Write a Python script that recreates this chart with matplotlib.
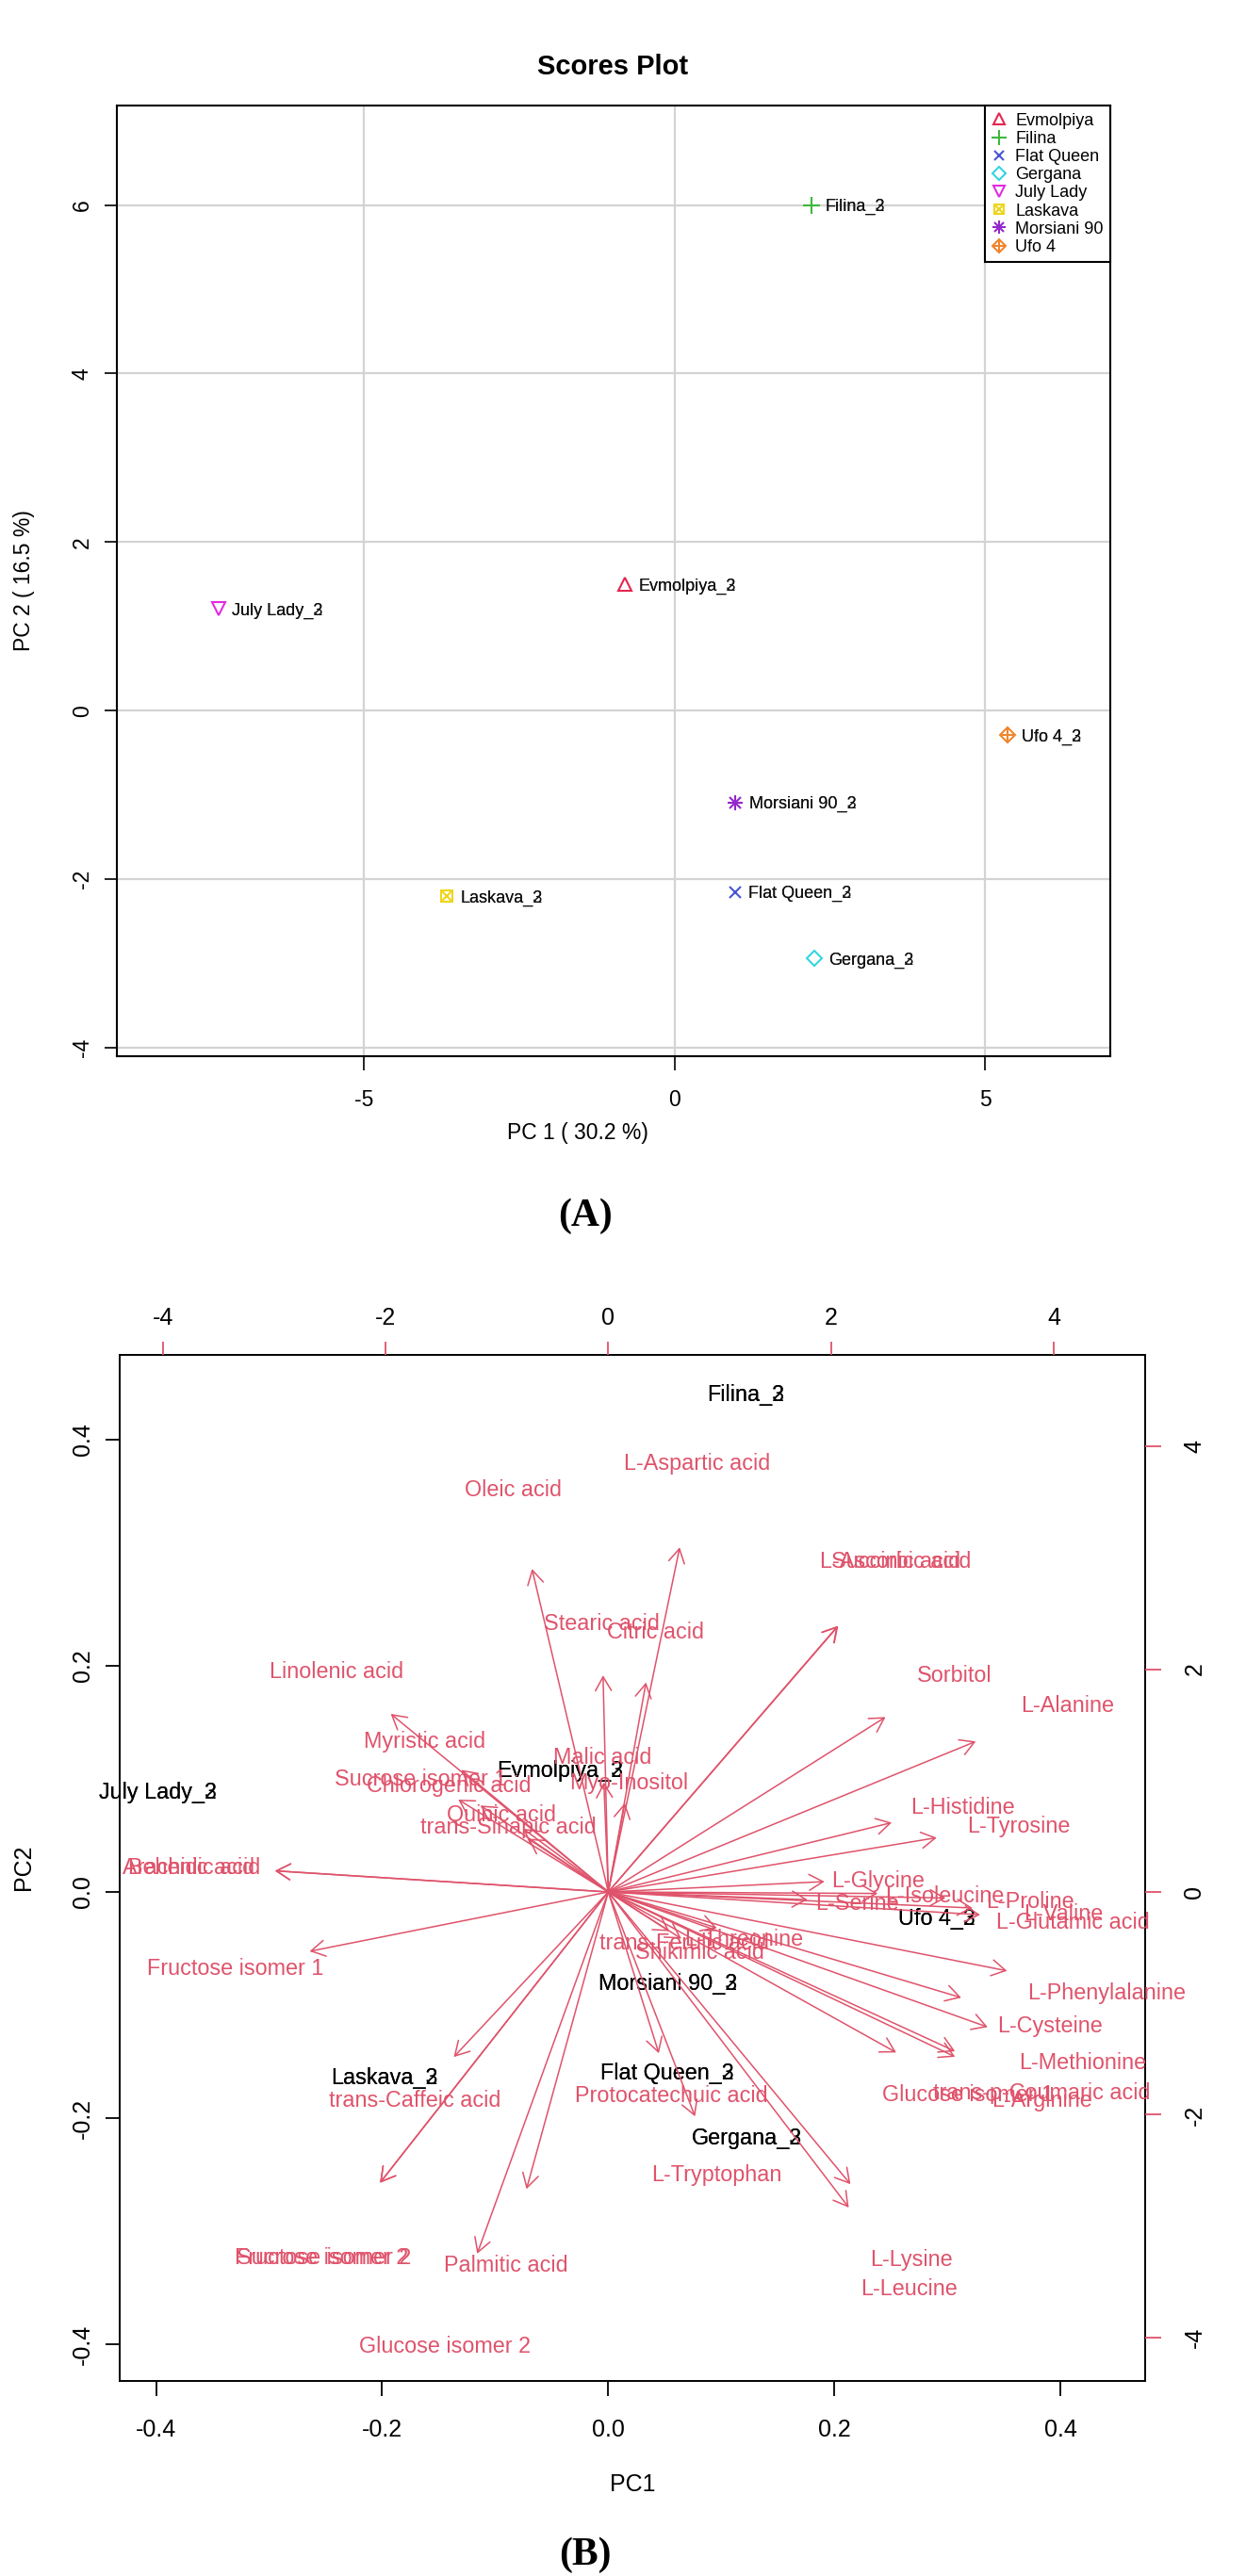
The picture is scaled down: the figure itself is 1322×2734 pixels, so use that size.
import numpy as np
import matplotlib
matplotlib.use('Agg')
import matplotlib.pyplot as plt
from matplotlib.lines import Line2D
from matplotlib.legend_handler import HandlerTuple

plt.rcParams['font.family'] = ['Liberation Sans', 'DejaVu Sans']
plt.rcParams['axes.unicode_minus'] = False

# ---------------- Panel A data (scores plot) ----------------
cultivars = ['Evmolpiya', 'Filina', 'Flat Queen', 'Gergana',
             'July Lady', 'Laskava', 'Morsiani 90', 'Ufo 4']
pc1_scores = [-0.80, 2.20, 0.97, 2.25, -7.34, -3.66, 0.98, 5.36]
pc2_scores = [1.50, 6.00, -2.15, -2.94, 1.21, -2.20, -1.09, -0.29]
replicates = ['2', '3']
xticksA = [-5, 0, 5]
yticksA = [-4, -2, 0, 2, 4, 6]

# ---------------- Panel B data (biplot) ----------------
score_pc1 = [-0.0428, 0.1217, 0.0523, 0.1223, -0.3986, -0.1977, 0.0529, 0.2908]
score_pc2 = [0.1094, 0.4417, -0.1586, -0.2156, 0.0900, -0.1628, -0.0794, -0.0219]

variables = ['L-Aspartic acid', 'Oleic acid', 'L-Ascorbic acid', 'Succinic acid',
             'Sorbitol', 'Stearic acid', 'Citric acid', 'Linolenic acid',
             'L-Alanine', 'Myristic acid', 'Malic acid', 'Myo-Inositol',
             'Sucrose isomer 1', 'Chlorogenic acid', 'Quinic acid', 'trans-Sinapic acid',
             'L-Histidine', 'L-Tyrosine', 'Arachidic acid', 'Behenic acid',
             'L-Glycine', 'L-Isoleucine', 'L-Serine', 'L-Proline',
             'L-Valine', 'L-Glutamic acid', 'L-Threonine', 'trans-Ferulic acid',
             'Shikimic acid', 'L-Phenylalanine', 'L-Cysteine', 'L-Methionine',
             'Glucose isomer 1', 'trans-p-Coumaric acid', 'L-Arginine', 'Protocatechuic acid',
             'L-Tryptophan', 'L-Lysine', 'L-Leucine', 'trans-Caffeic acid',
             'Sucrose isomer 2', 'Fructose isomer 2', 'Palmitic acid', 'Glucose isomer 2',
             'Fructose isomer 1']
load_pc1 = [0.801, -0.856, 2.575, 2.58,
            3.110, -0.059, 0.423, -2.441,
            4.123, -1.649, -0.05, 0.186,
            -1.683, -1.435, -0.956, -0.899,
            3.180, 3.685, -3.740, -3.740,
            2.425, 3.022, 2.235, 3.784,
            4.087, 4.172, 1.218, 0.685,
            0.820, 4.474, 3.960, 4.256,
            3.230, 3.890, 3.890, 0.567,
            0.973, 2.717, 2.698, -1.734,
            -2.562, -2.562, -0.918, -1.471,
            -3.351]
load_pc2 = [3.867, 3.625, 2.985, 2.985,
            1.962, 2.430, 2.351, 1.998,
            1.689, 1.370, 1.23, 0.998,
            1.036, 0.970, 0.710, 0.598,
            0.778, 0.609, 0.237, 0.237,
            0.116, -0.017, -0.087, -0.068,
            -0.180, -0.256, -0.406, -0.440,
            -0.524, -0.885, -1.186, -1.516,
            -1.801, -1.787, -1.849, -1.810,
            -2.518, -3.279, -3.541, -1.852,
            -3.264, -3.264, -3.334, -4.059,
            -0.666]
ticksB_primary = [-0.4, -0.2, 0.0, 0.2, 0.4]
ticksB_secondary = [-4, -2, 0, 2, 4]

# ---------------- styles ----------------
RED = '#DF536B'
colors = ['#E5264F', '#3DB83F', '#4655D4', '#34D5E3',
          '#E22BE0', '#EFD51C', '#9327CC', '#F0852C']
marker_specs = [
    [('^', 10, 'none')],
    [('+', 13, None)],
    [('x', 9, None)],
    [('D', 8, 'none')],
    [('v', 10, 'none')],
    [('s', 8, 'none'), ('x', 7, None)],
    [('+', 12, None), ('x', 9, None)],
    [('D', 8, 'none'), ('+', 11, None)],
]

W, H = 1322, 2734
fig = plt.figure(figsize=(W / 100, H / 100), dpi=100)


def rect(l, t, r, b):
    return [l / W, 1 - b / H, (r - l) / W, (b - t) / H]


# ================= Panel A =================
axA = fig.add_axes(rect(123.5, 112.5, 1178, 1121))
axA.set_xlim(-8.98, 7.01)
axA.set_ylim(-4.10, 7.175)
axA.set_xticks(xticksA)
axA.set_yticks(yticksA)
axA.grid(True, color='#D3D3D3', lw=1.6)
axA.set_axisbelow(True)
for s in axA.spines.values():
    s.set_linewidth(1.5)
axA.tick_params(axis='x', length=10.5, width=1.2, pad=15, labelsize=16.5)
axA.tick_params(axis='y', length=9.7, width=1.2, pad=8, labelsize=16.5, labelrotation=90)
for lab in axA.get_yticklabels():
    lab.set_va('center')

handles = []
for i, name in enumerate(cultivars):
    parts = []
    for (m, ms, mfc) in marker_specs[i]:
        kw = dict(marker=m, markersize=ms, color=colors[i], mew=1.5, linestyle='none')
        if mfc == 'none':
            kw['markerfacecolor'] = 'none'
        axA.plot([pc1_scores[i]], [pc2_scores[i]], zorder=3, **kw)
        parts.append(Line2D([], [], **kw))
    handles.append(tuple(parts))
    for r in replicates:
        axA.annotate(f'{name}_{r}', (pc1_scores[i], pc2_scores[i]),
                     xytext=(10.5, 0), textcoords='offset points',
                     ha='left', va='center_baseline', fontsize=13, color='#111111')

leg = axA.legend(handles, cultivars, loc='upper right', fontsize=13,
                 handler_map={tuple: HandlerTuple(ndivide=1)},
                 frameon=True, fancybox=False, edgecolor='black', framealpha=1,
                 borderaxespad=0, borderpad=0.4, labelspacing=0.12,
                 handlelength=0.9, handletextpad=0.5, markerscale=0.85)
leg.get_frame().set_linewidth(1.5)

fig.text(650 / W, 1 - 71 / H, 'Scores Plot', ha='center', va='center',
         fontsize=21, fontweight='bold')
fig.text(613 / W, 1 - 1203 / H, 'PC 1 ( 30.2 %)', ha='center', va='center', fontsize=16.5)
fig.text(25.5 / W, 1 - 616 / H, 'PC 2 ( 16.5 %)', ha='center', va='center',
         fontsize=16.5, rotation=90)
fig.text(621 / W, 1 - 1291 / H, '(A)', ha='center', va='center', fontsize=30,
         fontweight='bold', family=['Liberation Serif', 'DejaVu Serif'])

# ================= Panel B =================
posB = rect(127.2, 1438.3, 1215.2, 2527.3)
limB = (-0.432, 0.475)
k = 1200 / 118.25
axB = fig.add_axes(posB)
axB.set_xlim(*limB)
axB.set_ylim(-0.4328, 0.4748)
axB.set_xticks(ticksB_primary)
axB.set_yticks(ticksB_primary)
axB.set_xticklabels([f'{v:.1f}' for v in ticksB_primary])
axB.set_yticklabels([f'{v:.1f}' for v in ticksB_primary])
for s in axB.spines.values():
    s.set_linewidth(1.4)
axB.tick_params(axis='x', length=11.5, width=1.3, pad=17, labelsize=18)
axB.tick_params(axis='y', length=10.5, width=1.3, pad=9, labelsize=18, labelrotation=90)
for lab in axB.get_yticklabels():
    lab.set_va('center')

for i, name in enumerate(cultivars):
    for r in replicates:
        axB.text(score_pc1[i], score_pc2[i], f'{name}_{r}', ha='center',
                 va='center_baseline', fontsize=16.8, color='black')

axB2 = fig.add_axes(posB, frameon=False)
axB2.patch.set_visible(False)
axB2.set_xlim(limB[0] * k, limB[1] * k)
axB2.set_ylim(-0.4328 * k, 0.4748 * k)
axB2.set_xticks(ticksB_secondary)
axB2.set_yticks(ticksB_secondary)
axB2.xaxis.tick_top()
axB2.yaxis.tick_right()
axB2.tick_params(axis='x', top=True, bottom=False, labeltop=True, labelbottom=False,
                 length=10, width=1.3, color=RED, pad=9.6, labelsize=18)
axB2.tick_params(axis='y', right=True, left=False, labelright=True, labelleft=False,
                 length=12, width=1.3, color=RED, pad=17, labelsize=18, labelrotation=90)
for lab in axB2.get_yticklabels():
    lab.set_va('center')

lx = np.array(load_pc1)
ly = np.array(load_pc2)
for x, y in zip(lx, ly):
    axB2.annotate('', xy=(0.8 * x, 0.8 * y), xytext=(0, 0),
                  arrowprops=dict(arrowstyle='->,head_length=1.06,head_width=0.61',
                                  color=RED, lw=1.1, shrinkA=0, shrinkB=0))
for name, x, y in zip(variables, lx, ly):
    axB2.text(x, y, name, ha='center', va='center_baseline', fontsize=16.8, color=RED)

fig.text(671 / W, 1 - 2637 / H, 'PC1', ha='center', va='center', fontsize=18)
fig.text(25 / W, 1 - 1982 / H, 'PC2', ha='center', va='center', fontsize=18, rotation=90)
fig.text(621 / W, 1 - 2712 / H, '(B)', ha='center', va='center', fontsize=30,
         fontweight='bold', family=['Liberation Serif', 'DejaVu Serif'])

fig.savefig('out.png', dpi=100)
